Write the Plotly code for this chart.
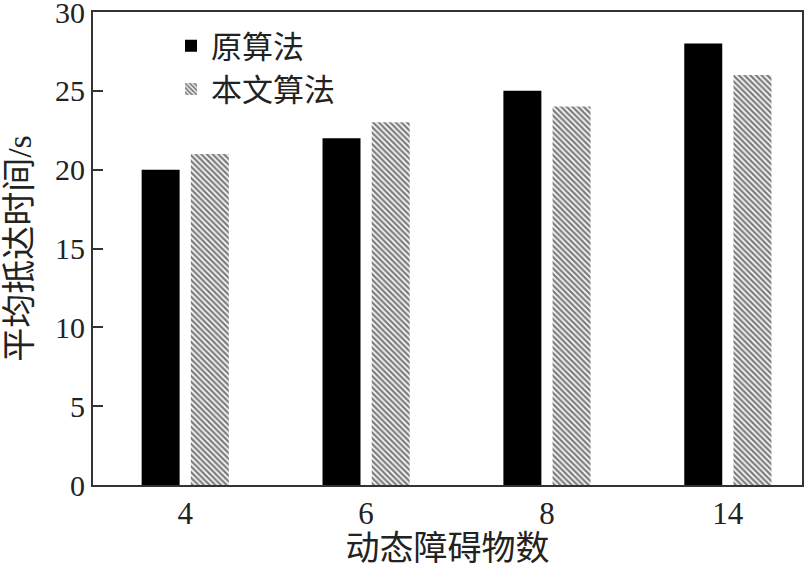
import plotly.graph_objects as go

# 데이터
categories = ['4', '6', '8', '14']
original_times = [20, 22, 25, 28]
proposed_times = [21, 23, 24, 26]

FONT = 'Liberation Serif, Noto Sans CJK SC, serif'

fig = go.Figure()

fig.add_trace(go.Bar(
    x=categories,
    y=original_times,
    name='原算法',
    marker=dict(color='black', line=dict(width=0))
))

fig.add_trace(go.Bar(
    x=categories,
    y=proposed_times,
    name='本文算法',
    marker=dict(
        color='white',
        line=dict(width=0),
        pattern=dict(shape='\\', fgcolor='black', bgcolor='white', size=4, solidity=0.6)
    )
))

fig.update_layout(
    width=805,
    height=567,
    barmode='group',
    bargap=0.456,
    bargroupgap=0.228,
    plot_bgcolor='white',
    paper_bgcolor='white',
    font=dict(family=FONT, size=31, color='#222'),
    margin=dict(l=93, r=3, t=12, b=82),
    showlegend=True,
    legend=dict(
        x=0.11, y=0.985, xanchor='left', yanchor='top',
        bgcolor='rgba(0,0,0,0)',
        font=dict(family=FONT, size=31),
        itemwidth=30,
        tracegroupgap=0,
    ),
)

fig.update_xaxes(
    type='category',
    range=[-0.51, 3.41],
    automargin=False,
    showline=True, linecolor='#333', linewidth=2, mirror=True,
    ticks='', showgrid=False,
    tickfont=dict(size=31),
    title=dict(text='动态障碍物数', font=dict(size=34), standoff=2),
)

fig.update_yaxes(
    range=[0, 30],
    tickvals=[0, 5, 10, 15, 20, 25, 30],
    automargin=False,
    ticklabeloverflow='allow',
    showline=True, linecolor='#333', linewidth=2, mirror=True,
    ticks='inside', ticklen=10, tickwidth=2, tickcolor='#333',
    showgrid=False, zeroline=False,
    tickfont=dict(size=30),
    title=dict(text='平均抵达时间/s', font=dict(size=34), standoff=13),
)

# body 기본 여백 제거
fig.write_html('out.html', config={'displayModeBar': False},
               post_script="document.body.style.margin='0';")
